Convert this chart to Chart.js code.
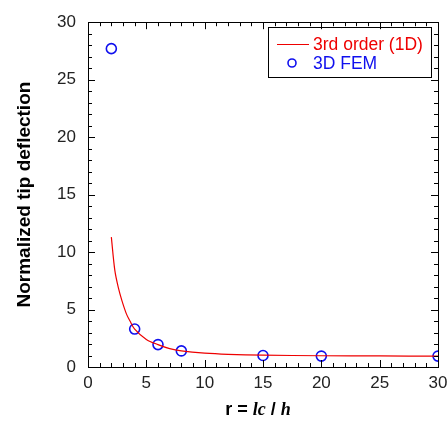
<!DOCTYPE html>
<html>
<head>
<meta charset="utf-8">
<script src="https://cdn.jsdelivr.net/npm/chart.js@4/dist/chart.umd.min.js"></script>
<style>
  html, body { margin: 0; padding: 0; background: #fff; }
  #wrap { width: 448px; height: 429px; }
</style>
</head>
<body>
<div id="wrap"><canvas id="myChart"></canvas></div>
<script>
// 3rd order (1D) curve
var curveR = [2, 2.3, 2.6, 2.9, 3.3, 3.6, 4, 5, 6, 7, 8, 10, 12, 15, 20, 25, 30]
var curveVal = [11.3, 8.4, 6.9, 5.8, 4.6, 4.0, 3.3, 2.4, 1.95, 1.6, 1.4, 1.2, 1.1, 1.03, 0.98, 0.96, 0.95]

// 3D FEM points
var femR = [2, 4, 6, 8, 15, 20, 30]
var femVal = [27.7, 3.3, 1.95, 1.4, 1.0, 0.95, 0.95]

var xTicks = [0, 5, 10, 15, 20, 25, 30]
var yTicks = [0, 5, 10, 15, 20, 25, 30]

var RED = '#ee0000'
var BLUE = '#1010ee'
var FONT = '"Liberation Sans", Arial, sans-serif'

function toPoints(xs, ys) {
  return xs.map((x, i) => ({ x: x, y: ys[i] }))
}

// box, inward ticks on all sides, legend and x title
var framePlugin = {
  id: 'frame',
  afterDraw(chart) {
    var ctx = chart.ctx
    var a = chart.chartArea
    var xs = chart.scales.x
    var ys = chart.scales.y
    ctx.save()
    ctx.strokeStyle = '#000'
    ctx.lineWidth = 1
    ctx.strokeRect(Math.round(a.left) + 0.5, Math.round(a.top) + 0.5,
      Math.round(a.right - a.left), Math.round(a.bottom - a.top))

    ctx.beginPath()
    for (var v = xs.min; v <= xs.max; v += 1) {
      var len = v % 5 === 0 ? 7 : 4
      var px = Math.round(xs.getPixelForValue(v)) + 0.5
      ctx.moveTo(px, a.bottom); ctx.lineTo(px, a.bottom - len)
      ctx.moveTo(px, a.top); ctx.lineTo(px, a.top + len)
    }
    for (var w = ys.min; w <= ys.max; w += 1) {
      var len2 = w % 5 === 0 ? 7 : 4
      var py = Math.round(ys.getPixelForValue(w)) + 0.5
      ctx.moveTo(a.left, py); ctx.lineTo(a.left + len2, py)
      ctx.moveTo(a.right, py); ctx.lineTo(a.right - len2, py)
    }
    ctx.stroke()

    // legend
    var ds = chart.data.datasets
    ctx.strokeRect(268.5, 27.5, 163, 50)
    ctx.font = '17.5px ' + FONT
    ctx.textBaseline = 'middle'
    ctx.textAlign = 'left'
    ctx.strokeStyle = ds[0].borderColor
    ctx.beginPath(); ctx.moveTo(277, 44.5); ctx.lineTo(309, 44.5); ctx.stroke()
    ctx.fillStyle = ds[0].borderColor
    ctx.fillText(ds[0].label, 313, 45)
    ctx.strokeStyle = ds[1].borderColor
    ctx.lineWidth = 1.6
    ctx.beginPath(); ctx.arc(292, 63, 4, 0, Math.PI * 2); ctx.stroke()
    ctx.fillStyle = ds[1].borderColor
    ctx.fillText(ds[1].label, 313, 64)

    // x axis title: r = lc / h
    var parts = [
      ['r = ', 'bold 18px ' + FONT],
      ['lc', 'bold italic 18px "Liberation Serif", serif'],
      [' / ', 'bold 18px ' + FONT],
      ['h', 'bold italic 18px "Liberation Serif", serif']
    ]
    var total = 0
    parts.forEach(p => { ctx.font = p[1]; total += ctx.measureText(p[0]).width })
    var x = (a.left + a.right) / 2 - 5 - total / 2
    ctx.fillStyle = '#000'
    ctx.textBaseline = 'alphabetic'
    parts.forEach(p => {
      ctx.font = p[1]
      ctx.fillText(p[0], x, 415)
      x += ctx.measureText(p[0]).width
    })
    ctx.restore()
  }
}

var ctx = document.getElementById('myChart').getContext('2d')
var chart = new Chart(ctx, {
  type: 'scatter',
  data: {
    datasets: [{
      label: '3rd order (1D)',
      data: toPoints(curveR, curveVal),
      showLine: true,
      borderColor: RED,
      borderWidth: 1.2,
      pointRadius: 0,
      tension: 0.3,
      fill: false
    }, {
      label: '3D FEM',
      data: toPoints(femR, femVal),
      showLine: false,
      borderColor: BLUE,
      backgroundColor: 'rgba(0,0,0,0)',
      borderWidth: 1.6,
      pointRadius: 5,
      pointStyle: 'circle'
    }]
  },
  options: {
    responsive: true,
    maintainAspectRatio: false,
    animation: false,
    layout: { padding: { top: 18, right: 0, left: 0, bottom: 0 } },
    plugins: {
      legend: { display: false },
      tooltip: { enabled: false }
    },
    scales: {
      x: {
        type: 'linear',
        min: 0,
        max: 30,
        afterFit(scale) { scale.height = 62; scale.paddingRight = 10 },
        afterBuildTicks(scale) { scale.ticks = xTicks.map(v => ({ value: v })) },
        grid: { display: false, drawTicks: false },
        border: { display: false },
        ticks: { padding: 6, color: '#222', font: { family: FONT, size: 17 }, maxRotation: 0 }
      },
      y: {
        type: 'linear',
        min: 0,
        max: 30,
        afterFit(scale) { scale.width = 88 },
        afterBuildTicks(scale) { scale.ticks = yTicks.map(v => ({ value: v })) },
        grid: { display: false, drawTicks: false },
        border: { display: false },
        ticks: { padding: 12, color: '#222', font: { family: FONT, size: 17 } },
        title: {
          display: true,
          text: 'Normalized tip deflection',
          color: '#000',
          font: { family: FONT, size: 19, weight: 'bold' },
          padding: { top: 13, bottom: 0 }
        }
      }
    }
  },
  plugins: [framePlugin]
})
</script>
</body>
</html>
